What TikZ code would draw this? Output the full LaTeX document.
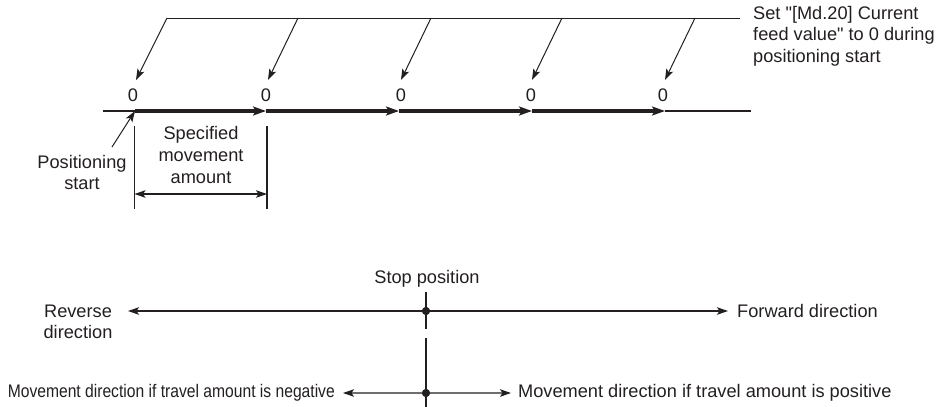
\documentclass[tikz,border=0pt]{standalone}
\usepackage{fontspec}
\setmainfont{Liberation Sans}
\newfontfamily\qfont{Liberation Sans}
\usetikzlibrary{arrows.meta}
\definecolor{ink}{RGB}{35,31,32}
\definecolor{lgray}{RGB}{110,110,110}
\newcommand{\sq}{{\qfont"}}
\begin{document}
\begin{tikzpicture}[x=1pt,y=-1pt,
  txt/.style={inner sep=0pt,text=ink,font=\fontsize{18.2}{21.5}\selectfont,align=center},
  thinln/.style={draw=ink,line width=1pt},
  midln/.style={draw=ink,line width=1.3pt},
  thickln/.style={draw=ink,line width=3.6pt},
  tipA/.style={-{Stealth[length=11pt,width=7.5pt,inset=2.5pt]}},
  tipB/.style={-{Stealth[length=13pt,width=9pt,inset=3pt]}},
  tipC/.style={{Stealth[length=11pt,width=7.5pt,inset=2.5pt]}-{Stealth[length=11pt,width=7.5pt,inset=2.5pt]}},
  dot/.style={circle,fill=ink,inner sep=0pt,minimum size=8pt}
]
\useasboundingbox (0,0) rectangle (940,407);

% ---------- top part ----------
\node[txt,align=left,anchor=west] (note) at (753,36)
  {Set \sq[Md.20] Current\\feed value\sq{} to 0 during\\positioning start};
\coordinate (tl) at (167,18);
\coordinate (tr) at (740,18);
\draw[thinln] (tl) -- (tr);

\foreach \i/\zx/\tx/\bx in {1/133/167/136, 2/266/298/268, 3/401/431/401, 4/531/562/532, 5/663/695/665}{
  \node[txt] (z\i) at (\zx,95) {0};
  \coordinate (s\i) at (\tx,18);
  \coordinate (e\i) at (\bx,80);
  \draw[thinln,tipA] (s\i) -- (e\i);
}

% axis
\coordinate (a0) at (103,111);
\coordinate (a1) at (135,111);
\coordinate (a2) at (266,111);
\coordinate (a3) at (399,111);
\coordinate (a4) at (532,111);
\coordinate (a5) at (665,111);
\coordinate (a6) at (751,111);
\draw[midln] (a0) -- (a1);
\draw[thickln,tipB] (a1) -- (a2);
\draw[thickln,tipB] (a2) -- (a3);
\draw[thickln,tipB] (a3) -- (a4);
\draw[thickln,tipB] (a4) -- (a5);
\draw[midln] (a5) -- (a6);

% positioning start
\node[txt] (ps) at (82,172.5) {Positioning\\start};
\coordinate (psa) at (112,147);
\draw[thinln,tipA] (psa) -- (a1);

% specified movement amount
\coordinate (v1t) at (134.5,126);
\coordinate (v1b) at (134.5,209);
\coordinate (v2t) at (267,126);
\coordinate (v2b) at (267,209);
\draw[midln] (v1t) -- (v1b);
\draw[midln] (v2t) -- (v2b);
\node[txt,font=\fontsize{18.2}{22}\selectfont] (sma) at (201,155) {Specified\\movement\\amount};
\coordinate (d1) at (134.5,194);
\coordinate (d2) at (267,194);
\draw[midln,tipC] (d1) -- (d2);

% ---------- bottom part ----------
\node[txt] (stop) at (427,279) {Stop position};
\node[dot] (p1) at (426,311) {};
\coordinate (v3t) at (426,292);
\coordinate (v3b) at (426,329);
\draw[midln] (v3t) -- (v3b);
\node[txt] (rev) at (78,322) {Reverse\\direction};
\node[txt,anchor=west] (fwd) at (737,311) {Forward direction};
\coordinate (rt) at (128,311);
\coordinate (ft) at (728,311);
\draw[midln,tipA] (p1.center) -- (rt);
\draw[midln,tipA] (p1.center) -- (ft);

\node[dot] (p2) at (426,393) {};
\coordinate (v4t) at (426,338);
\coordinate (v4b) at (426,407);
\draw[midln] (v4t) -- (v4b);
\node[txt,anchor=east] (neg) at (335,393)
  {\resizebox{327pt}{\height}{Movement direction if travel amount is negative}};
\node[txt,anchor=west] (pos) at (518,393)
  {Movement direction if travel amount is positive};
\coordinate (nt) at (343,393);
\coordinate (pt) at (511,393);
\draw[draw=lgray,line width=1.2pt,-{Stealth[length=11pt,width=7.5pt,inset=2.5pt,fill=ink,color=ink]}] (p2.center) -- (nt);
\draw[draw=lgray,line width=1.2pt,-{Stealth[length=11pt,width=7.5pt,inset=2.5pt,fill=ink,color=ink]}] (p2.center) -- (pt);
\node[dot] at (p2) {};
\node[dot] at (p1) {};
\end{tikzpicture}
\end{document}
